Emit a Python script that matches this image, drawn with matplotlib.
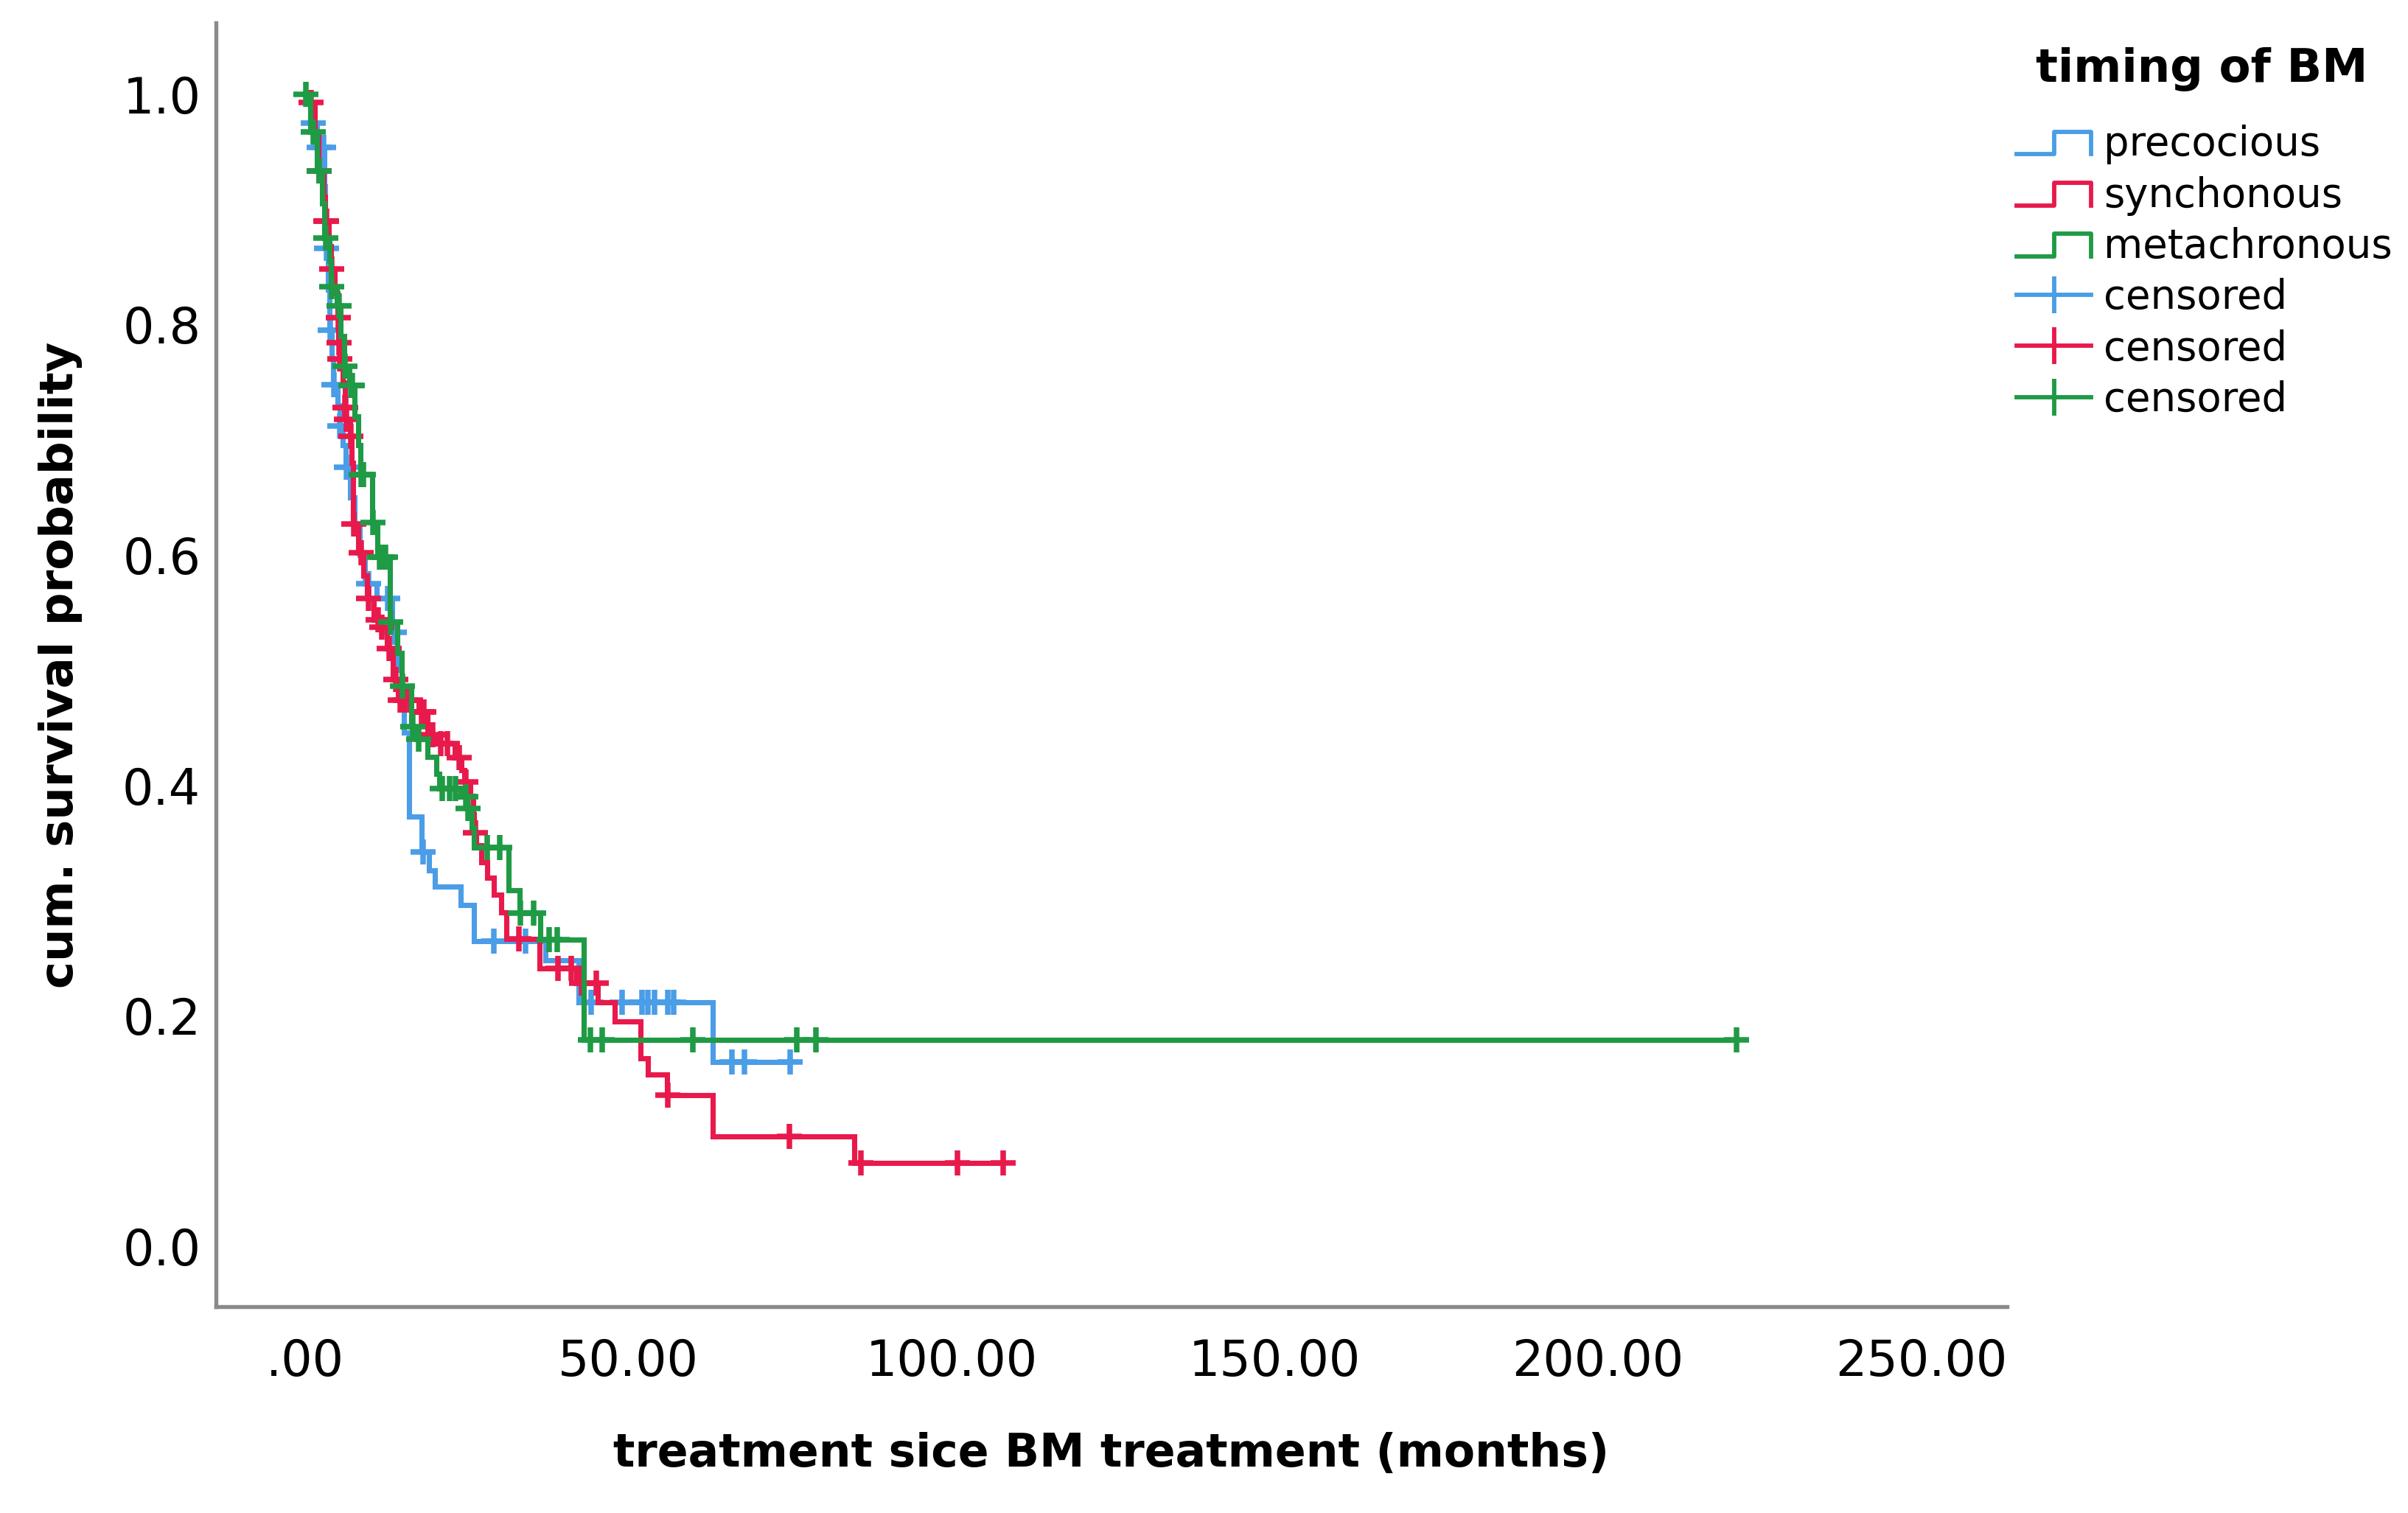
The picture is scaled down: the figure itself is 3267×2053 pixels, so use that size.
import numpy as np
import matplotlib
matplotlib.use("Agg")
import matplotlib.pyplot as plt
from matplotlib.lines import Line2D
from matplotlib.legend_handler import HandlerBase

# Kaplan-Meier curves: step times (months) and survival after each step
groups = ['precocious', 'synchonous', 'metachronous']
colors = ['#4a9de6', '#e8194b', '#1f9a45']

blue_t = [0.8, 1.8, 3.0, 3.1, 3.2, 3.5, 3.8, 4.1, 4.3, 5.0, 5.3, 5.8, 6.3, 7.0, 7.6, 8.4, 9.2,
          11.0, 13.5, 14.3, 14.9, 15.3, 16.1, 18.0, 19.1, 20.1, 24.1, 26.1, 37.2, 42.3, 63.1]
blue_s = [0.975, 0.954, 0.92, 0.89, 0.866, 0.83, 0.795, 0.77, 0.748, 0.73, 0.712, 0.695, 0.676,
          0.65, 0.625, 0.60, 0.575, 0.562, 0.533, 0.50, 0.47, 0.446, 0.373, 0.342, 0.326, 0.312,
          0.296, 0.265, 0.248, 0.212, 0.160]
blue_cens = [1.25, 2.2, 2.9, 3.3, 3.9, 4.4, 5.4, 6.4, 9.8, 12.8, 13.8, 18.2, 29.2, 34.1,
             44.2, 49.0, 52.1, 53.0, 54.0, 56.1, 57.0, 66.0, 68.0, 75.0]

red_t = [0.5, 1.5, 2.0, 2.8, 3.1, 3.6, 4.0, 4.6, 5.0, 5.15, 5.3, 5.8, 6.1, 6.3, 6.9, 7.2, 7.35,
         7.45, 8.2, 9.0, 9.6, 10.6, 11.7, 12.6, 13.6, 14.4, 17.5, 18.9, 20.4, 23.1, 24.2, 24.6,
         25.5, 26.0, 26.1, 26.4, 27.3, 28.2, 29.2, 30.3, 31.1, 36.2, 42.0, 45.3, 47.9, 51.9,
         53.0, 56.0, 63.1, 85.0]
red_s = [0.993, 0.965, 0.933, 0.911, 0.890, 0.868, 0.848, 0.827, 0.806, 0.784, 0.770, 0.75,
         0.728, 0.718, 0.703, 0.68, 0.655, 0.627, 0.602, 0.582, 0.562, 0.544, 0.537, 0.519,
         0.492, 0.474, 0.464, 0.444, 0.436, 0.424, 0.413, 0.403, 0.391, 0.375, 0.359, 0.348,
         0.333, 0.320, 0.305, 0.290, 0.267, 0.241, 0.228, 0.212, 0.195, 0.163, 0.149, 0.131,
         0.095, 0.072]
red_cens = [0.9, 2.2, 3.2, 3.25, 4.1, 5.1, 5.2, 5.4, 6.2, 6.25, 6.35, 7.1, 7.5, 8.7, 9.8, 11.3,
            11.9, 13.0, 14.0, 14.7, 15.5, 16.3, 18.0, 18.3, 19.7, 21.0, 22.0, 23.8, 24.9, 26.3,
            33.1, 39.1, 41.2, 42.8, 45.0, 56.1, 74.9, 86.0, 100.9, 108.0]

green_t = [0.8, 1.8, 2.6, 3.0, 3.7, 4.0, 4.9, 5.5, 6.0, 6.8, 7.6, 8.2, 8.5, 10.4, 11.2, 13.1,
           14.3, 14.9, 16.4, 17.3, 18.9, 20.3, 20.8, 24.0, 25.0, 25.8, 26.1, 31.5, 33.2, 36.4,
           43.1]
green_s = [0.967, 0.933, 0.905, 0.875, 0.855, 0.833, 0.816, 0.79, 0.764, 0.747, 0.72, 0.695,
           0.670, 0.628, 0.598, 0.542, 0.515, 0.486, 0.451, 0.44, 0.425, 0.41, 0.397, 0.390,
           0.380, 0.363, 0.346, 0.309, 0.289, 0.266, 0.179]
green_cens = [0.1, 1.25, 2.2, 3.2, 4.1, 5.2, 6.2, 7.1, 7.3, 8.7, 9.0, 10.5, 11.5, 12.0, 12.4,
              13.2, 15.1, 16.6, 17.6, 21.2, 22.3, 23.3, 24.8, 25.2, 28.2, 30.1, 33.3, 35.3,
              37.7, 39.0, 44.1, 46.0, 60.0, 76.0, 79.0, 221.5]

curves = [(blue_t, blue_s, blue_cens), (red_t, red_s, red_cens), (green_t, green_s, green_cens)]


class StepHandler(HandlerBase):
    # legend glyph shaped like a small survival step
    def create_artists(self, legend, orig_handle, xdescent, ydescent, width, height, fontsize, trans):
        x0, y0 = -xdescent, -ydescent
        xs = [x0, x0 + width * 0.5, x0 + width * 0.5, x0 + width, x0 + width]
        ys = [y0 + height * 0.05, y0 + height * 0.05, y0 + height * 0.85, y0 + height * 0.85, y0 + height * 0.05]
        ln = Line2D(xs, ys, color=orig_handle.get_color(), lw=1.4, transform=trans)
        return [ln]


fig = plt.figure(figsize=(3267 / 300, 2053 / 300), dpi=300)
ax = fig.add_axes([0.0897, 0.1364, 0.7438, 0.8486])

for (t, s, cens), col in zip(curves, colors):
    tt = [0.0] + list(t) + [max(cens)]
    ss = [1.0] + list(s) + [s[-1]]
    ax.step(tt, ss, where='post', color=col, lw=1.7, solid_joinstyle='miter')
    # censored marks sit on the curve
    idx = np.searchsorted(np.array(tt), np.array(cens), side='right') - 1
    cs = np.array(ss)[idx]
    ax.plot(cens, cs, linestyle='none', marker='+', color=col, markersize=8, mew=1.8)

ax.set_xlim(-13.8, 263.3)
ax.set_ylim(-0.0525, 1.062)
ax.set_xticks([0, 50, 100, 150, 200, 250])
ax.set_xticklabels(['.00', '50.00', '100.00', '150.00', '200.00', '250.00'])
ax.set_yticks([0.0, 0.2, 0.4, 0.6, 0.8, 1.0])
ax.set_yticklabels(['0.0', '0.2', '0.4', '0.6', '0.8', '1.0'])
ax.tick_params(length=0, labelsize=16)
ax.tick_params(axis='x', pad=10)
ax.tick_params(axis='y', pad=5)

for side in ['top', 'right']:
    ax.spines[side].set_visible(False)
for side in ['left', 'bottom']:
    ax.spines[side].set_color('#8a8a8a')
    ax.spines[side].set_linewidth(1.3)

ax.set_xlabel('treatment sice BM treatment (months)', fontsize=14.8, fontweight='bold', labelpad=15)
ax.set_ylabel('cum. survival probability', fontsize=15, fontweight='bold', labelpad=13)

fig.text(0.9145, 0.954, 'timing of BM', fontsize=15, fontweight='bold', ha='center', va='center')

step_handles = [Line2D([], [], color=c) for c in colors]
cens_handles = [Line2D([], [], color=c, lw=1.4, marker='|', markersize=12, mew=1.4) for c in colors]
handles = step_handles + cens_handles
labels = groups + ['censored'] * 3
hmap = {h: StepHandler() for h in step_handles}
leg = fig.legend(handles, labels, handler_map=hmap, loc='upper left',
                 bbox_to_anchor=(0.8374, 0.9175), frameon=False, fontsize=13.1,
                 borderpad=0, borderaxespad=0,
                 handlelength=1.86, handletextpad=0.3, labelspacing=0.28)

fig.savefig('out.png', dpi=300)
